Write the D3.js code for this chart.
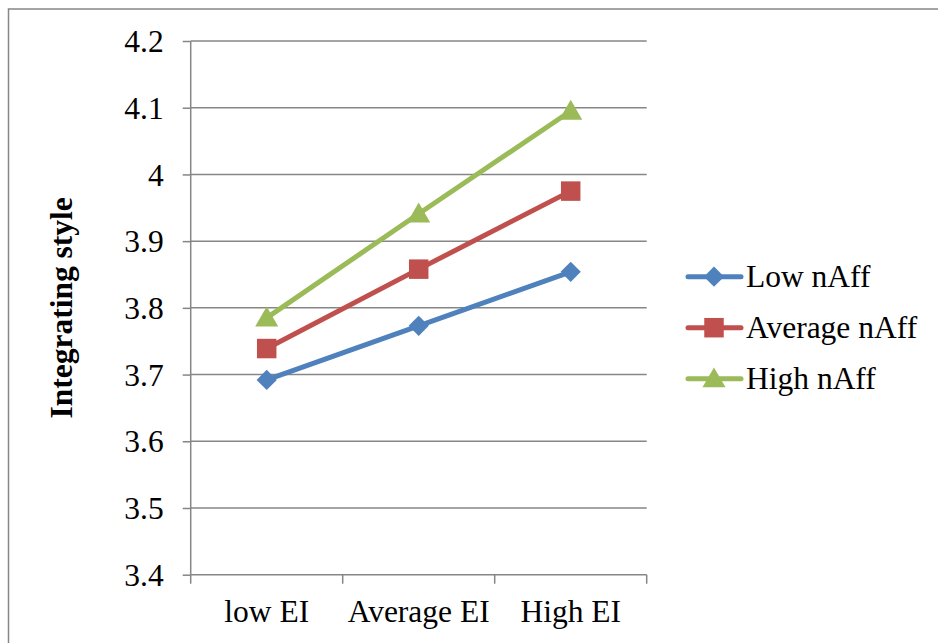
<!DOCTYPE html>
<html><head><meta charset="utf-8">
<script src="https://cdn.jsdelivr.net/npm/d3@7"></script>
<style>html,body{margin:0;padding:0;background:#fff;}svg{display:block;}
svg text{font-family:'Liberation Serif','Times New Roman',serif;}</style>
</head><body>
<svg id="c" width="938" height="643"></svg>
<script>
const categories = ["low EI", "Average EI", "High EI"];
const seriesNames = ["Low nAff", "Average nAff", "High nAff"];
const lowNAff = [3.692, 3.773, 3.854];
const avgNAff = [3.739, 3.858, 3.975];
const highNAff = [3.785, 3.941, 4.095];
const yTicks = [3.4, 3.5, 3.6, 3.7, 3.8, 3.9, 4.0, 4.1, 4.2];
const yTitle = "Integrating style";

(function () {
const colors = ["#4F81BD", "#C0504D", "#9BBB59"];
const symbols = [d3.symbolDiamond2, d3.symbolSquare, d3.symbolTriangle];
const sizes = [260, 380, 230];
const series = [lowNAff, avgNAff, highNAff].map((v, i) => ({name: seriesNames[i], values: v, color: colors[i], symbol: symbols[i], size: sizes[i], off: i === 2 ? 2 : 0}));

const svg = d3.select("#c");
const font = "'Liberation Serif','Times New Roman',serif";
const grid = "#868686";
const fs = 31.5;

// outer border
svg.append("rect").attr("x", 8.5).attr("y", 9).attr("width", 940).attr("height", 650)
  .attr("fill", "none").attr("stroke", grid).attr("stroke-width", 1.5);

const pL = 190.7, pR = 646.7, pT = 41, pB = 574.7;
const x = d3.scaleBand().domain(categories).range([pL, pR]);
const y = d3.scaleLinear().domain([3.4, 4.2]).range([pB, pT]);

// gridlines
svg.append("g").selectAll("line").data(yTicks.slice(1)).join("line")
  .attr("x1", pL).attr("x2", pR).attr("y1", d => y(d)).attr("y2", d => y(d))
  .attr("stroke", grid).attr("stroke-width", 1.5);

// y axis
const yAxis = svg.append("g").attr("transform", `translate(${pL},0)`)
  .call(d3.axisLeft(y).tickValues(yTicks).tickFormat(d => String(+d.toFixed(1))).tickSize(8).tickPadding(19));
yAxis.attr("font-family", font).attr("font-size", fs);
yAxis.select(".domain").attr("stroke", grid).attr("stroke-width", 1.5).attr("d", `M0,${pT}V${pB}`);
yAxis.selectAll(".tick line").attr("stroke", grid).attr("stroke-width", 1.5);
yAxis.selectAll(".tick text").style("font-family", font).style("font-size", fs + "px").attr("fill", "#000").attr("dy", "0.34em");

// x axis
const xAxis = svg.append("g").attr("transform", `translate(0,${pB})`)
  .call(d3.axisBottom(x).tickSize(0));
xAxis.attr("font-family", font).attr("font-size", fs);
xAxis.select(".domain").attr("stroke", grid).attr("stroke-width", 1.5).attr("d", `M${pL},0H${pR}`);
xAxis.selectAll(".tick text").style("font-family", font).style("font-size", fs + "px").attr("fill", "#000")
  .attr("y", 47).attr("dy", 0);
// category boundary ticks
const bounds = categories.map(c => x(c)).concat([x(categories[categories.length - 1]) + x.bandwidth()]);
svg.append("g").selectAll("line").data(bounds).join("line")
  .attr("x1", d => d).attr("x2", d => d).attr("y1", pB).attr("y2", pB + 9)
  .attr("stroke", grid).attr("stroke-width", 1.5);

// y title
svg.append("text").attr("transform", `translate(72,${(pT + pB) / 2}) rotate(-90)`)
  .attr("text-anchor", "middle").style("font-family", font).attr("font-weight", "bold")
  .style("font-size", fs + "px").text(yTitle);

const cx = c => x(c) + x.bandwidth() / 2;
const line = d3.line().x((d, i) => cx(categories[i])).y(d => y(d));

series.forEach(s => {
  svg.append("path").datum(s.values).attr("d", line).attr("fill", "none")
    .attr("stroke", s.color).attr("stroke-width", 5).attr("stroke-linejoin", "round");
  svg.append("g").selectAll("path").data(s.values).join("path")
    .attr("transform", (d, i) => `translate(${cx(categories[i])},${y(d) + s.off})`)
    .attr("d", d3.symbol().type(s.symbol).size(s.size)).attr("fill", s.color);
});

// legend
const lg = svg.append("g");
series.forEach((s, i) => {
  const ly = 276.7 + i * 51;
  lg.append("line").attr("x1", 688).attr("x2", 741).attr("y1", ly).attr("y2", ly)
    .attr("stroke", s.color).attr("stroke-width", 5).attr("stroke-linecap", "round");
  lg.append("path").attr("transform", `translate(714,${ly + s.off})`)
    .attr("d", d3.symbol().type(s.symbol).size(s.size)).attr("fill", s.color);
  lg.append("text").attr("x", 746).attr("y", ly).attr("dy", "0.32em")
    .style("font-family", font).style("font-size", fs + "px").text(s.name);
});
})();
</script>
</body></html>
